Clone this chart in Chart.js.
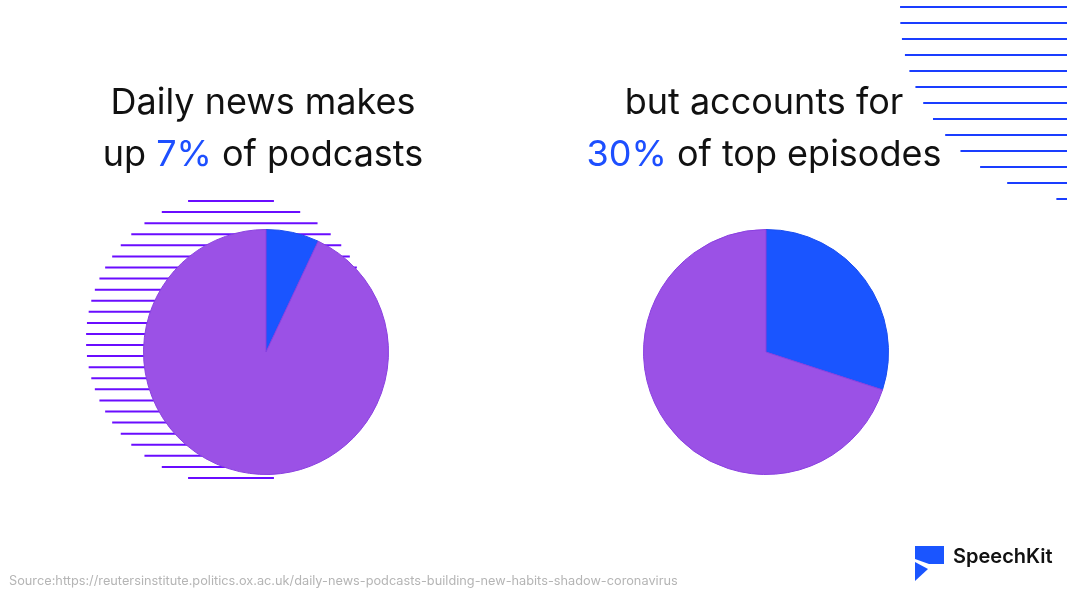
<!DOCTYPE html>
<html>
<head>
<meta charset="utf-8">
<script src="https://cdn.jsdelivr.net/npm/chart.js@4/dist/chart.umd.min.js"></script>
<style>
  body { margin: 0; background: #fff; }
  #page { position: relative; width: 1067px; height: 600px; overflow: hidden; font-family: Inter, "Noto Sans", sans-serif; }
  #deco { position: absolute; left: 0; top: 0; }
  .pie { position: absolute; width: 246px; height: 246px; }
  .title { position: absolute; width: 500px; text-align: center; font-size: 36px; line-height: 52px; color: #111; }
  .title span { color: #1d4fff; }
  #logo { position: absolute; left: 953px; top: 544px; font-size: 20px; font-weight: 600; color: #111; }
  #source { position: absolute; left: 9px; top: 573px; font-size: 12.75px; color: #b5b5b5; }
</style>
</head>
<body>
<div id="page">
  <canvas id="deco" width="1067" height="600"></canvas>
  <div class="title" style="left:13px; top:75px;">Daily news makes<br>up <span>7%</span> of podcasts</div>
  <div class="title" style="left:514px; top:75px;">but accounts for<br><span>30%</span> of top episodes</div>
  <div class="pie" style="left:143px; top:229px;"><canvas id="pie1"></canvas></div>
  <div class="pie" style="left:643px; top:229px;"><canvas id="pie2"></canvas></div>
  <div id="logo">SpeechKit</div>
  <div id="source">Source:https://reutersinstitute.politics.ox.ac.uk/daily-news-podcasts-building-new-habits-shadow-coronavirus</div>
</div>
<script>
// data
var labels = ['Daily news', 'Other'];
var podcastShare = [7, 93];
var topEpisodeShare = [30, 70];
var sliceColors = ['#1a55ff', '#9b51e6'];
var edgeColors = ['#1a4df0', '#8a40e0'];

// background stripes + logo mark
var deco = document.getElementById('deco').getContext('2d');
function stripes(cx, cy, r, y0, step, color) {
  deco.strokeStyle = color;
  deco.lineWidth = 2;
  for (var y = y0; y <= cy + r; y += step) {
    var dy = y - cy;
    if (Math.abs(dy) >= r) continue;
    var hw = Math.sqrt(r * r - dy * dy);
    deco.beginPath();
    deco.moveTo(cx - hw, y);
    deco.lineTo(cx + hw, y);
    deco.stroke();
  }
}
stripes(231, 339.5, 145, 201, 11.08, '#6a0dff');
stripes(1090, 12, 190, 7, 16, '#1a3dff');

deco.fillStyle = '#1a55ff';
deco.beginPath();
deco.moveTo(915, 546); deco.lineTo(944, 546); deco.lineTo(944, 564);
deco.lineTo(929, 564); deco.lineTo(915, 559); deco.closePath(); deco.fill();
deco.beginPath();
deco.moveTo(915, 562); deco.lineTo(928, 569); deco.lineTo(915, 581); deco.closePath(); deco.fill();

function makePie(id, values) {
  return new Chart(document.getElementById(id), {
    type: 'pie',
    data: {
      labels: labels,
      datasets: [{
        data: values,
        backgroundColor: sliceColors,
        borderColor: edgeColors,
        borderWidth: 1
      }]
    },
    options: {
      responsive: true,
      maintainAspectRatio: false,
      animation: false,
      layout: { padding: 0 },
      plugins: {
        legend: { display: false },
        tooltip: { enabled: false }
      }
    }
  });
}
var chart = makePie('pie1', podcastShare);
var chart2 = makePie('pie2', topEpisodeShare);
</script>
</body>
</html>
